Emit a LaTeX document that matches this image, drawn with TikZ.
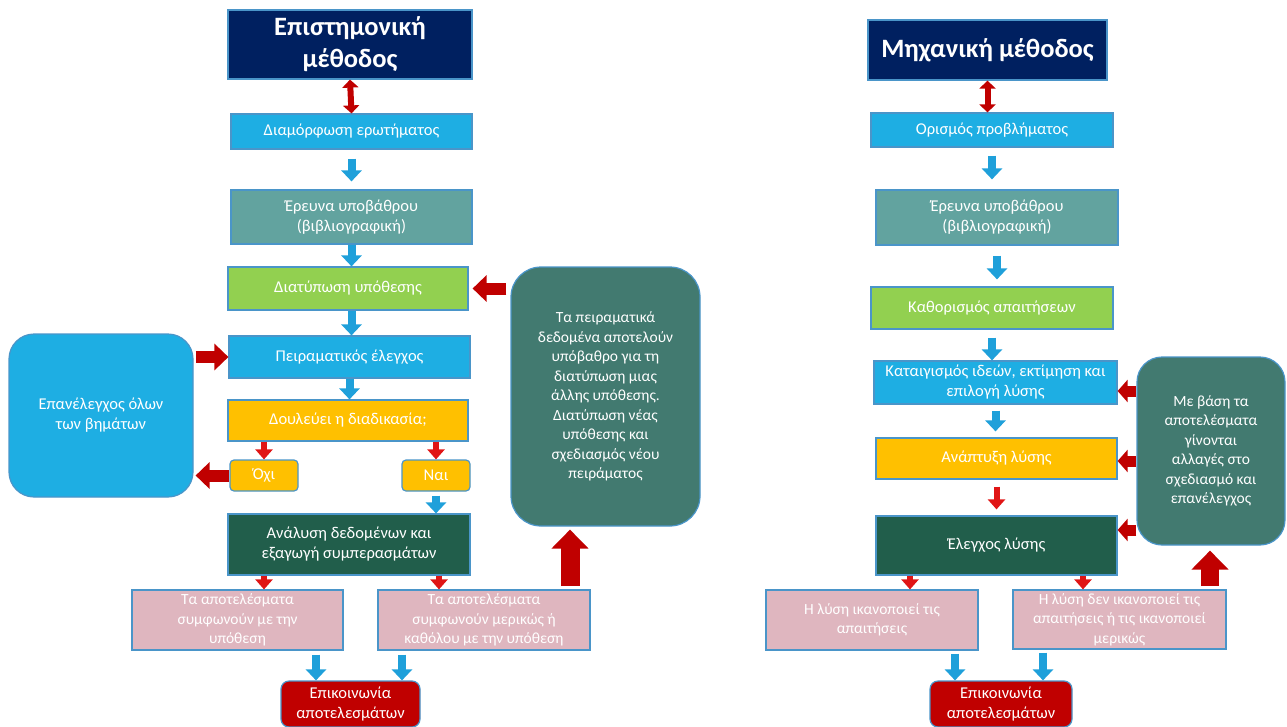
\documentclass[tikz,border=0pt]{standalone}
\usepackage{fontspec}
\setmainfont{Carlito}
\usetikzlibrary{arrows.meta}
\definecolor{navy}{HTML}{002060}
\definecolor{sky}{HTML}{1EAEE3}
\definecolor{teal1}{HTML}{62A39F}
\definecolor{lime}{HTML}{92D050}
\definecolor{amber}{HTML}{FFC000}
\definecolor{forest}{HTML}{215E4B}
\definecolor{rose}{HTML}{DFB6BF}
\definecolor{crimson}{HTML}{C00000}
\definecolor{sea}{HTML}{427A70}
\definecolor{boxline}{HTML}{4A95C9}
\definecolor{arrowblue}{HTML}{1FA0DA}
\definecolor{arrowred}{HTML}{C00000}
\definecolor{brightred}{HTML}{E01515}
\tikzset{
  box/.style={draw=boxline,line width=1.2pt,text=white,align=center,inner sep=2pt,font=\fontsize{16.5}{20}\selectfont},
  smallbox/.style={box,font=\fontsize{15.5}{19.5}\selectfont},
  headbox/.style={box,fill=navy,font=\bfseries\fontsize{26.5}{32}\selectfont},
  barrow/.style={draw=arrowblue,line width=8pt,-{Triangle[length=11pt,width=20pt]}},
  rarrow/.style={draw=brightred,line width=6pt,-{Triangle[length=10pt,width=17pt]}},
  fatarrow/.style={draw=arrowred,line width=12pt,-{Triangle[length=14pt,width=26pt]}},
  bigarrow/.style={draw=arrowred,line width=19pt,-{Triangle[length=19pt,width=36pt]}},
  dblarrow/.style={draw=arrowred,line width=6pt,{Triangle[length=8pt,width=16pt]}-{Triangle[length=8pt,width=16pt]}}
}
\begin{document}
\begin{tikzpicture}[x=1pt,y=-1pt]
	\useasboundingbox (0,0) rectangle (1287,726);
	\node[headbox,minimum width=244pt,minimum height=69pt] (l1) at (350,44.5) {Επιστημονική\\μέθοδος};
	\node[box,fill=sky,minimum width=241pt,minimum height=35pt] (l2) at (351.5,131.5) {Διαμόρφωση ερωτήματος};
	\node[box,fill=teal1,minimum width=241pt,minimum height=54pt] (l3) at (351.5,217) {Έρευνα υποβάθρου\\(βιβλιογραφική)};
	\node[box,fill=lime,minimum width=240pt,minimum height=43pt] (l4) at (348,288.5) {Διατύπωση υπόθεσης};
	\node[box,fill=sky,minimum width=241pt,minimum height=42pt] (l5) at (349.5,357) {Πειραματικός έλεγχος};
	\node[box,fill=amber,minimum width=240pt,minimum height=41pt] (l6) at (348,420.5) {Δουλεύει η διαδικασία;};
	\node[box,fill=amber,rounded corners=4pt,minimum width=68pt,minimum height=31pt] (no) at (264,475.5) {Όχι};
	\node[box,fill=amber,rounded corners=4pt,minimum width=68pt,minimum height=31pt] (yes) at (436,475.5) {Ναι};
	\node[box,fill=forest,minimum width=242pt,minimum height=61pt] (l7) at (349,544.5) {Ανάλυση δεδομένων και\\εξαγωγή συμπερασμάτων};
	\node[smallbox,fill=rose,minimum width=211pt,minimum height=60pt] (p1) at (237.5,620) {Τα αποτελέσματα\\συμφωνούν με την\\υπόθεση};
	\node[smallbox,fill=rose,minimum width=212pt,minimum height=60pt] (p2) at (484,620) {Τα αποτελέσματα\\συμφωνούν μερικώς ή\\καθόλου με την υπόθεση};
	\node[box,fill=crimson,rounded corners=8pt,minimum width=139pt,minimum height=46pt] (c1) at (350.5,704) {Επικοινωνία\\αποτελεσμάτων};
	\node[box,fill=sky,rounded corners=25pt,minimum width=184pt,minimum height=163pt] (lb) at (101,415.5) {Επανέλεγχος όλων\\των βημάτων};
	\node[smallbox,fill=sea,rounded corners=30pt,minimum width=189pt,minimum height=259pt] (rb) at (605.5,396.5) {Τα πειραματικά\\δεδομένα αποτελούν\\υπόβαθρο για τη\\διατύπωση μιας\\άλλης υπόθεσης.\\Διατύπωση νέας\\υπόθεσης και\\σχεδιασμός νέου\\πειράματος};
	\coordinate (x1) at (264,0);
	\coordinate (x2) at (439,0);
	\coordinate (x3) at (316,0);
	\coordinate (x4) at (402,0);
	\coordinate (x5) at (570,586);
	\draw[dblarrow] (l1.south) -- (l2.north);
	\draw[barrow,shorten <=9pt,shorten >=8pt] (l2.south) -- (l3.north);
	\draw[barrow] (l3.south) -- (l3.south |- l4.north);
	\draw[barrow] (l4.south -| l3.south) -- (l3.south |- l5.north);
	\draw[barrow] (l5.south) -- (l5.south |- l6.north);
	\draw[rarrow] (l6.south -| no.north) -- (no.north);
	\draw[rarrow] (l6.south -| yes.north) -- (yes.north);
	\draw[barrow,shorten <=4pt] (yes.south) -- (yes.south |- l7.north);
	\draw[fatarrow,shorten >=2pt] (no.west) -- (no.west -| lb.east);
	\draw[fatarrow,shorten <=2pt] (lb.east |- l5.west) -- (l5.west);
	\draw[fatarrow,shorten <=4pt,shorten >=4pt] (rb.west |- l4.east) -- (l4.east);
	\draw[rarrow] (l7.south -| x1) -- (p1.north -| x1);
	\draw[rarrow] (l7.south -| x2) -- (p2.north -| x2);
	\draw[bigarrow,shorten >=3pt] (x5) -- (x5 |- rb.south);
	\draw[barrow,shorten <=4pt] (p1.south -| x3) -- (c1.north -| x3);
	\draw[barrow,shorten <=4pt] (p2.south -| x4) -- (c1.north -| x4);
	\node[headbox,minimum width=239pt,minimum height=60pt] (r1) at (987.5,50) {Μηχανική μέθοδος};
	\node[box,fill=sky,minimum width=242pt,minimum height=34pt] (r2) at (992,130) {Ορισμός προβλήματος};
	\node[box,fill=teal1,minimum width=242pt,minimum height=55pt] (r3) at (997,217.5) {Έρευνα υποβάθρου\\(βιβλιογραφική)};
	\node[box,fill=lime,minimum width=242pt,minimum height=42pt] (r4) at (992,308) {Καθορισμός απαιτήσεων};
	\node[box,fill=sky,minimum width=243pt,minimum height=43pt] (r5) at (995.5,382.5) {Καταιγισμός ιδεών, εκτίμηση και\\επιλογή λύσης};
	\node[box,fill=amber,minimum width=241pt,minimum height=41pt] (r6) at (996.5,458.5) {Ανάπτυξη λύσης};
	\node[box,fill=forest,minimum width=241pt,minimum height=59pt] (r7) at (996.5,545.5) {Έλεγχος λύσης};
	\node[smallbox,fill=rose,minimum width=212pt,minimum height=60pt] (p3) at (872,620) {Η λύση ικανοποιεί τις\\απαιτήσεις};
	\node[smallbox,fill=rose,minimum width=213pt,minimum height=59pt] (p4) at (1119.5,619.5) {Η λύση δεν ικανοποιεί τις\\απαιτήσεις ή τις ικανοποιεί\\μερικώς};
	\node[box,fill=crimson,rounded corners=8pt,minimum width=142pt,minimum height=46pt] (c2) at (1001,704) {Επικοινωνία\\αποτελεσμάτων};
	\node[smallbox,fill=sea,rounded corners=25pt,minimum width=148pt,minimum height=188pt] (rb2) at (1211,451) {Με βάση τα\\αποτελέσματα\\γίνονται\\αλλαγές στο\\σχεδιασμό και\\επανέλεγχος};
	\coordinate (y1) at (910,0);
	\coordinate (y2) at (1083,0);
	\coordinate (y3) at (955,0);
	\coordinate (y4) at (1043,0);
	\coordinate (y5) at (1210,586);
	\coordinate (z1) at (0,391);
	\coordinate (z2) at (0,461);
	\coordinate (z3) at (0,530);
	\draw[dblarrow] (r1.south) -- (r1.south |- r2.north);
	\draw[barrow,shorten <=8pt,shorten >=10pt] (r2.south) -- (r2.south |- r3.north);
	\draw[barrow,shorten <=10pt,shorten >=7pt] (r3.south) -- (r3.south |- r4.north);
	\draw[barrow,shorten <=8pt] (r4.south) -- (r4.south |- r5.north);
	\draw[barrow,shorten <=6pt,shorten >=6pt] (r5.south) -- (r5.south |- r6.north);
	\draw[rarrow,shorten <=7pt,shorten >=6pt] (r6.south) -- (r6.south |- r7.north);
	\draw[rarrow] (r7.south -| y1) -- (p3.north -| y1);
	\draw[rarrow] (r7.south -| y2) -- (p4.north -| y2);
	\draw[barrow,shorten <=3pt] (p3.south -| y3) -- (c2.north -| y3);
	\draw[barrow,shorten <=3pt] (p4.south -| y4) -- (c2.north -| y4);
	\draw[bigarrow,line width=18pt,shorten >=5pt] (y5) -- (y5 |- rb2.south);
	\draw[fatarrow,line width=11pt,-{Triangle[length=10pt,width=22pt]}] (rb2.west |- z1) -- (r5.east |- z1);
	\draw[fatarrow,line width=11pt,-{Triangle[length=10pt,width=22pt]}] (rb2.west |- z2) -- (r6.east |- z2);
	\draw[fatarrow,line width=11pt,-{Triangle[length=10pt,width=22pt]}] (rb2.west |- z3) -- (r7.east |- z3);
\end{tikzpicture}
\end{document}
